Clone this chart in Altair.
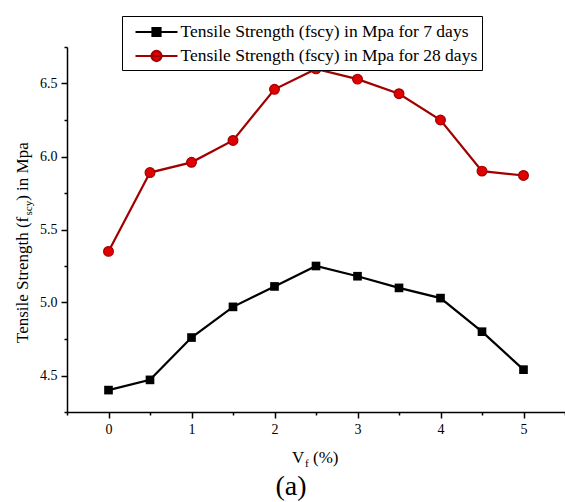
import altair as alt
import pandas as pd

vf = [0, 0.5, 1, 1.5, 2, 2.5, 3, 3.5, 4, 4.5, 5]
days7 = [4.40, 4.47, 4.76, 4.97, 5.11, 5.25, 5.18, 5.10, 5.03, 4.80, 4.54]
days28 = [5.35, 5.89, 5.96, 6.11, 6.46, 6.60, 6.53, 6.43, 6.25, 5.90, 5.87]
series_names = ["Tensile Strength (fscy) in Mpa for 7 days",
                "Tensile Strength (fscy) in Mpa for 28 days"]
y_ticks = [4.25, 4.5, 4.75, 5.0, 5.25, 5.5, 5.75, 6.0, 6.25, 6.5, 6.75]
x_ticks = [-0.5, 0, 0.5, 1, 1.5, 2, 2.5, 3, 3.5, 4, 4.5, 5, 5.5]

FONT = "Liberation Serif"
LINE7 = "#000000"
LINE28 = "#a00000"
FILL28 = "#e00000"

df = pd.DataFrame({
    "vf": vf * 2,
    "value": days7 + days28,
    "series": [series_names[0]] * len(vf) + [series_names[1]] * len(vf),
})

xenc = alt.X("vf:Q", scale=alt.Scale(domain=[-0.5, 5.5], nice=False, zero=False),
             axis=alt.Axis(values=x_ticks, title=None,
                           labelExpr="datum.value % 1 == 0 ? format(datum.value, 'd') : ''",
                           tickSize={"condition": {"test": "datum.value % 1 == 0", "value": 6}, "value": 3},
                           labelPadding=4))
yenc = alt.Y("value:Q", scale=alt.Scale(domain=[4.25, 6.75], nice=False, zero=False),
             axis=alt.Axis(values=y_ticks, title=None,
                           labelExpr="datum.value % 0.5 == 0 ? format(datum.value, '.1f') : ''",
                           tickSize={"condition": {"test": "datum.value % 0.5 == 0", "value": 6}, "value": 3},
                           labelPadding=4))

base = alt.Chart(df)
line7 = base.transform_filter(alt.datum.series == series_names[0]).mark_line(
    color=LINE7, strokeWidth=2.2).encode(x=xenc, y=yenc)
line28 = base.transform_filter(alt.datum.series == series_names[1]).mark_line(
    color=LINE28, strokeWidth=2.2).encode(x=xenc, y=yenc)
pts7 = base.transform_filter(alt.datum.series == series_names[0]).mark_point(
    shape="square", filled=True, color=LINE7, size=75, opacity=1).encode(x=xenc, y=yenc)
pts28 = base.transform_filter(alt.datum.series == series_names[1]).mark_point(
    shape="circle", fill=FILL28, stroke=LINE28, strokeWidth=1.2, size=95, opacity=1,
    filled=True).encode(x=xenc, y=yenc)

sym7 = "M-2,0H2M-0.38,-0.38H0.38V0.38H-0.38Z"
sym28 = "M-2,0H2M0.48,0A0.48,0.48,0,1,1,-0.48,0A0.48,0.48,0,1,1,0.48,0Z"
leg = alt.Legend(title=None)
legend_layer = base.mark_point(opacity=1, strokeWidth=2.2, size=441, filled=False).encode(
    x=alt.value(-2000), y=alt.value(-2000),
    shape=alt.Shape("series:N", scale=alt.Scale(domain=series_names, range=[sym7, sym28]), legend=leg),
    fill=alt.Fill("series:N", scale=alt.Scale(domain=series_names, range=[LINE7, FILL28]), legend=leg),
    color=alt.Color("series:N", scale=alt.Scale(domain=series_names, range=[LINE7, LINE28]), legend=leg),
)

def txt(s, x, y, size, angle=0, align="left", baseline="alphabetic"):
    kw = dict(font=FONT, fontSize=size, color="black", align=align, baseline=baseline)
    if angle:
        kw["angle"] = angle
    return alt.Chart(pd.DataFrame({"t": [s]})).mark_text(**kw).encode(
        text="t:N", x=alt.value(x), y=alt.value(y))

titles = [
    txt("Tensile Strength (f", -39, 296, 17, angle=270),
    txt("scy", -35, 168.5, 11, angle=270),
    txt(") in Mpa", -39, 153.8, 17, angle=270),
    txt("V", 225, 416, 17),
    txt("f", 238, 420, 11),
    txt("(%)", 246, 416, 17),
    txt("(a)", 224, 448, 28, align="center"),
]

chart = alt.layer(line7, line28, pts7, pts28, legend_layer, *titles).properties(
    width=498, height=365,
    autosize=alt.AutoSizeParams(type="none"),
    padding={"left": 67, "top": 47, "right": 0, "bottom": 90},
).configure_view(stroke=None).configure_axis(
    grid=False, domainColor="black", domainWidth=1.5, tickColor="black", tickWidth=1.5,
    labelFont=FONT, labelFontSize=14, labelColor="black",
).configure_legend(
    orient="none", legendX=55, legendY=-31,
    labelFont=FONT, labelFontSize=17.5, labelColor="black", labelLimit=0,
    strokeColor="black", fillColor="white", padding=4, cornerRadius=0,
    symbolSize=441, symbolStrokeWidth=2.2, symbolOffset=18.5, labelOffset=12, rowPadding=3,
)

chart.save("out.html", embed_options={"renderer": "svg", "actions": False})
